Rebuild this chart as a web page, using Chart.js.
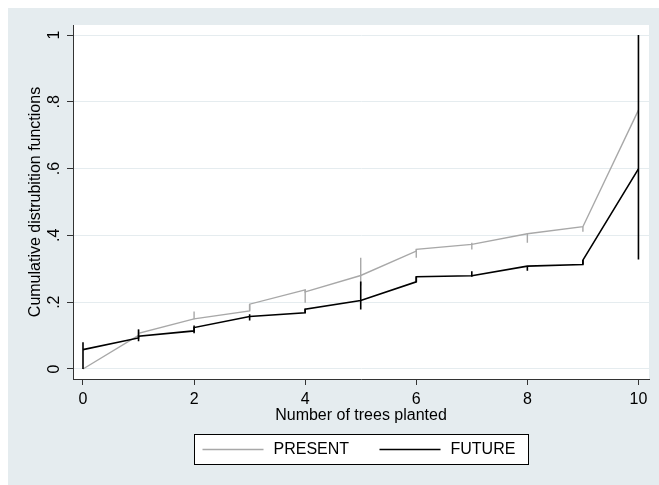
<!DOCTYPE html>
<html>
<head>
<meta charset="utf-8">
<script src="https://cdn.jsdelivr.net/npm/chart.js@4.4.0/dist/chart.umd.min.js"></script>
<style>
  body { margin: 0; background: #fff; }
  canvas { display: block; }
</style>
</head>
<body>
<canvas id="cdfChart" width="659" height="485"></canvas>
<script>
const xTicks = [0, 2, 4, 6, 8, 10];
const yTicks = [0, 0.2, 0.4, 0.6, 0.8, 1];
const yTickLabels = ['0', '.2', '.4', '.6', '.8', '1'];
const seriesNames = ['PRESENT', 'FUTURE'];
const xTitle = 'Number of trees planted';
const yTitle = 'Cumulative distrubition functions';

// curve paths (x repeats where the curve jumps)
const presentX = [0, 1, 1, 2, 3, 3, 4, 4, 5, 6, 6, 7, 8, 9, 10];
const presentY = [0.0, 0.101, 0.107, 0.150, 0.174, 0.194, 0.237, 0.231, 0.280, 0.353, 0.358, 0.373, 0.405, 0.426, 0.775];
const presentSpikeX = [1, 2, 3, 4, 5, 6, 7, 8, 9];
const presentSpikeLo = [0.101, 0.149, 0.174, 0.198, 0.250, 0.333, 0.358, 0.378, 0.411];
const presentSpikeHi = [0.120, 0.172, 0.194, 0.237, 0.333, 0.358, 0.378, 0.406, 0.426];

const futureX = [0, 1, 1, 2, 2, 3, 4, 4, 5, 6, 6, 7, 8, 9, 9, 10];
const futureY = [0.058, 0.093, 0.098, 0.114, 0.124, 0.157, 0.168, 0.179, 0.205, 0.261, 0.276, 0.279, 0.308, 0.313, 0.326, 0.599];
const futureSpikeX = [0, 1, 2, 3, 4, 5, 6, 7, 8, 9, 10];
const futureSpikeLo = [0.0, 0.083, 0.107, 0.145, 0.168, 0.178, 0.261, 0.276, 0.294, 0.313, 0.328];
const futureSpikeHi = [0.080, 0.118, 0.130, 0.164, 0.180, 0.262, 0.276, 0.293, 0.308, 0.326, 1.0];

const presentColor = '#a8a8a8';
const futureColor = '#000000';
const regionColor = '#e5ecef';
const axisColor = '#333333';
const fontFamily = '"Liberation Sans", Arial, sans-serif';

function pathPoints(xs, ys) {
    return xs.map((x, i) => ({ x: x, y: ys[i] }));
}

function spikePoints(xs, lo, hi) {
    const pts = [];
    xs.forEach((x, i) => {
        pts.push({ x: x, y: lo[i] }, { x: x, y: hi[i] }, { x: x, y: null });
    });
    return pts;
}

const stataLook = {
    id: 'stataLook',
    beforeDraw(chart) {
        const ctx = chart.ctx;
        const a = chart.chartArea;
        ctx.save();
        ctx.fillStyle = '#ffffff';
        ctx.fillRect(0, 0, chart.width, chart.height);
        ctx.fillStyle = regionColor;
        ctx.fillRect(8, 8, chart.width - 8, chart.height - 8);
        ctx.fillStyle = '#ffffff';
        ctx.fillRect(a.left, a.top, a.right - a.left, a.bottom - a.top);
        ctx.restore();
    },
    afterDraw(chart) {
        const ctx = chart.ctx;
        const a = chart.chartArea;
        const yScale = chart.scales.y;
        const midX = (a.left + a.right) / 2;
        ctx.save();
        ctx.fillStyle = '#000';
        ctx.font = '16px ' + fontFamily;
        ctx.textAlign = 'center';
        ctx.textBaseline = 'middle';

        // rotated y tick labels
        yTicks.forEach((v, i) => {
            ctx.save();
            ctx.translate(55, yScale.getPixelForValue(v));
            ctx.rotate(-Math.PI / 2);
            ctx.fillText(yTickLabels[i], 0, 0);
            ctx.restore();
        });

        // y title
        ctx.save();
        ctx.translate(36, (a.top + a.bottom) / 2);
        ctx.rotate(-Math.PI / 2);
        ctx.fillText(yTitle, 0, 0);
        ctx.restore();

        // x title
        ctx.fillText(xTitle, midX, 416);

        // legend box
        const boxW = 334, boxH = 30, boxTop = 434;
        const boxLeft = Math.round(midX - boxW / 2) + 0.5;
        ctx.fillStyle = '#fff';
        ctx.fillRect(boxLeft, boxTop + 0.5, boxW, boxH);
        ctx.strokeStyle = '#000';
        ctx.lineWidth = 1;
        ctx.strokeRect(boxLeft, boxTop + 0.5, boxW, boxH);

        const colors = [presentColor, futureColor];
        const widths = [1.4, 1.6];
        const itemStart = [8, 185];
        ctx.textAlign = 'left';
        seriesNames.forEach((name, i) => {
            const x0 = boxLeft + itemStart[i];
            const yMid = boxTop + boxH / 2 + 0.5;
            ctx.strokeStyle = colors[i];
            ctx.lineWidth = widths[i];
            ctx.beginPath();
            ctx.moveTo(x0, yMid);
            ctx.lineTo(x0 + 61, yMid);
            ctx.stroke();
            ctx.fillStyle = '#000';
            ctx.fillText(name, x0 + 71, yMid);
        });
        ctx.restore();
    }
};

const ctx = document.getElementById('cdfChart').getContext('2d');
new Chart(ctx, {
    type: 'line',
    data: {
        datasets: [
            {
                label: seriesNames[1],
                data: pathPoints(futureX, futureY),
                borderColor: futureColor,
                borderWidth: 1.6,
                order: 0
            },
            {
                label: seriesNames[1] + ' spikes',
                data: spikePoints(futureSpikeX, futureSpikeLo, futureSpikeHi),
                borderColor: futureColor,
                borderWidth: 1.6,
                order: 1
            },
            {
                label: seriesNames[0],
                data: pathPoints(presentX, presentY),
                borderColor: presentColor,
                borderWidth: 1.4,
                order: 2
            },
            {
                label: seriesNames[0] + ' spikes',
                data: spikePoints(presentSpikeX, presentSpikeLo, presentSpikeHi),
                borderColor: presentColor,
                borderWidth: 1.4,
                order: 3
            }
        ]
    },
    options: {
        responsive: false,
        animation: false,
        devicePixelRatio: 1,
        layout: { padding: { top: 25, right: 10, left: 0, bottom: 0 } },
        elements: {
            point: { radius: 0, hoverRadius: 0 },
            line: { tension: 0, fill: false, borderCapStyle: 'butt' }
        },
        spanGaps: false,
        plugins: {
            legend: { display: false },
            tooltip: { enabled: false }
        },
        scales: {
            x: {
                type: 'linear',
                min: -0.18,
                max: 10.19,
                afterBuildTicks: (scale) => { scale.ticks = xTicks.map(v => ({ value: v })); },
                afterFit: (scale) => { scale.height = 106; },
                grid: { drawOnChartArea: false, drawTicks: true, tickLength: 6, tickColor: axisColor, tickWidth: 1 },
                border: { display: true, color: axisColor, width: 1 },
                ticks: {
                    color: '#000',
                    font: { family: fontFamily, size: 16 },
                    padding: 5,
                    maxRotation: 0,
                    autoSkip: false,
                    callback: (v) => String(v)
                }
            },
            y: {
                type: 'linear',
                min: -0.03,
                max: 1.03,
                afterBuildTicks: (scale) => { scale.ticks = yTicks.map(v => ({ value: v })); },
                afterFit: (scale) => { scale.width = 73; },
                grid: { color: regionColor, lineWidth: 1, drawTicks: true, tickLength: 6, tickColor: axisColor, tickWidth: 1 },
                border: { display: true, color: axisColor, width: 1 },
                ticks: { display: false }
            }
        }
    },
    plugins: [stataLook]
});
</script>
</body>
</html>
